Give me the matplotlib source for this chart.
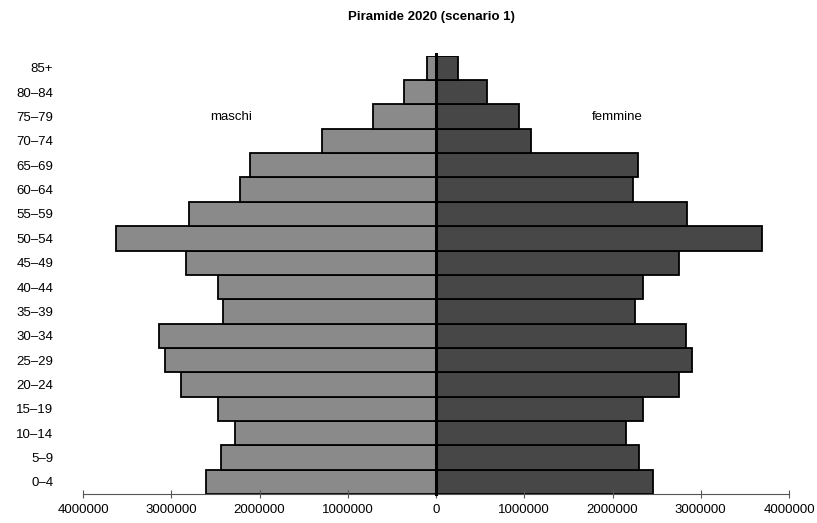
import matplotlib
matplotlib.use("Agg")
import matplotlib.pyplot as plt
import numpy as np

plt.rcParams['font.family'] = ['Liberation Sans', 'DejaVu Sans']

age_groups = ["0–4", "5–9", "10–14", "15–19", "20–24", "25–29", "30–34", "35–39",
              "40–44", "45–49", "50–54", "55–59", "60–64", "65–69", "70–74",
              "75–79", "80–84", "85+"]
maschi = [2606000, 2433000, 2282000, 2470000, 2894000, 3067000, 3139000, 2418000,
          2470000, 2833000, 3623000, 2795000, 2221000, 2104000, 1296000,
          714000, 359000, 107000]
femmine = [2462000, 2304000, 2153000, 2346000, 2749000, 2901000, 2829000, 2250000,
           2346000, 2749000, 3694000, 2844000, 2232000, 2285000, 1080000,
           944000, 578000, 249000]
xticks = [-4000000, -3000000, -2000000, -1000000, 0, 1000000, 2000000, 3000000, 4000000]
xticklabels = ["4000000", "3000000", "2000000", "1000000", "0",
               "1000000", "2000000", "3000000", "4000000"]

W, H = 817, 523
fig = plt.figure(figsize=(W / 100, H / 100), dpi=100)
ax = fig.add_axes([83 / W, 29 / H, (789 - 83) / W, (494 - 55.7) / H])

y = np.arange(len(age_groups))
ax.barh(y, [-v for v in maschi], height=1.0, color="#8a8a8a",
        edgecolor="black", linewidth=1.3)
ax.barh(y, femmine, height=1.0, color="#474747",
        edgecolor="black", linewidth=1.3)
ax.plot([0, 0], [-0.5, 17.56], color="black", lw=2.2, clip_on=False, zorder=5)

ax.set_xlim(-4000000, 4000000)
ax.set_ylim(-0.5, 17.5)
ax.set_yticks(y)
ax.set_yticklabels(age_groups, fontsize=9.5)
ax.tick_params(axis='y', length=0, pad=21.5)
ax.set_xticks(xticks)
ax.set_xticklabels(xticklabels, fontsize=9.5)
ax.tick_params(axis='x', direction='inout', length=6, width=0.8, color="#555555", pad=4)

for s in ['top', 'right', 'left']:
    ax.spines[s].set_visible(False)
ax.spines['bottom'].set_color("#555555")
ax.spines['bottom'].set_linewidth(0.8)

ax.text(-2320000, 15, "maschi", ha="center", va="center", fontsize=9.5)
ax.text(2050000, 15, "femmine", ha="center", va="center", fontsize=9.5)

fig.text(431 / W, 1 - 17 / H, "Piramide 2020 (scenario 1)", ha="center", va="center",
         fontsize=9.5, fontweight="bold")

fig.savefig("out.png", dpi=100)
